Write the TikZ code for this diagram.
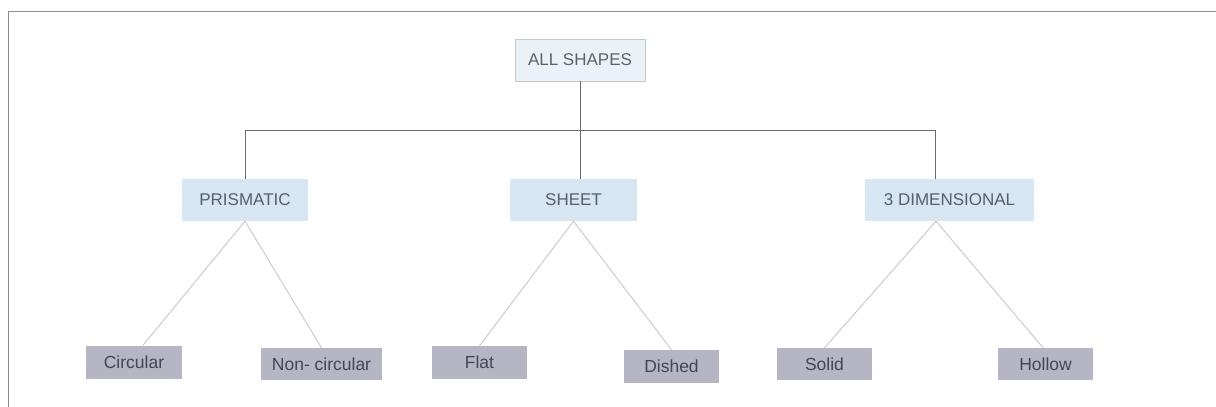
\documentclass[tikz,border=0pt]{standalone}
\usepackage{fontspec}
\setmainfont{Liberation Sans}
\begin{document}
\begin{tikzpicture}[x=1pt,y=-1pt,
  frame/.style={draw=black!45,line width=1.4pt},
  rootbox/.style={draw=black!22,line width=0.8pt,fill=rootfill,text=roottext,
    inner sep=0pt,minimum width=130pt,minimum height=42pt,font=\fontsize{17}{20}\selectfont},
  midbox/.style={fill=midfill,text=midtext,inner sep=0pt,minimum height=42pt,
    font=\fontsize{17}{20}\selectfont},
  leafbox/.style={fill=leaffill,text=leaftext,inner sep=0pt,minimum height=33pt,
    font=\fontsize{17.5}{20}\selectfont},
  trunk/.style={draw=black!58,line width=1pt},
  twig/.style={draw=black!20,line width=1pt}]
\definecolor{rootfill}{HTML}{EAF2F7}
\definecolor{roottext}{HTML}{5F6468}
\definecolor{midfill}{HTML}{D6E6F3}
\definecolor{midtext}{HTML}{56606B}
\definecolor{leaffill}{HTML}{B5B5C3}
\definecolor{leaftext}{HTML}{464651}

\useasboundingbox[fill=white] (0,0) rectangle (1216,407);

% outer frame: top and left edges only
\draw[frame] (8.5,407) -- (8.5,11.5) -- (1216,11.5);

% root and first level
\node[rootbox] (all) at (580,60) {ALL SHAPES};
\node[midbox,minimum width=126pt] (prism) at (245,200) {PRISMATIC};
\node[midbox,minimum width=127pt] (sheet) at (573.5,200) {SHEET};
\node[midbox,minimum width=169pt] (dim) at (949.5,200) {3 DIMENSIONAL};

% leaves
\node[leafbox,minimum width=96pt] (circ) at (134,362) {Circular};
\node[leafbox,minimum width=121pt,minimum height=32pt] (noncirc) at (321.5,364) {Non- circular};
\node[leafbox,minimum width=95pt] (flat) at (479.5,362.5) {Flat};
\node[leafbox,minimum width=95pt] (dished) at (671.5,366.5) {Dished};
\node[leafbox,minimum width=95pt,minimum height=32pt] (solid) at (824.5,364) {Solid};
\node[leafbox,minimum width=95pt,minimum height=32pt] (hollow) at (1045.5,364) {Hollow};

% attachment points on the boxes
\coordinate (bus) at (580,130.5);
\coordinate (sheettop) at ([xshift=7pt]sheet.north);
\coordinate (dimtop) at ([xshift=-14.5pt]dim.north);
\coordinate (dimbot) at ([xshift=-13.5pt]dim.south);
\coordinate (circtop) at ([xshift=9pt]circ.north);
\coordinate (hollowtop) at ([xshift=-2.5pt]hollow.north);

% tree trunk
\draw[trunk] (all.south) -- (bus);
\draw[trunk] (prism.north) -- (prism.north |- bus) -- (dimtop |- bus) -- (dimtop);
\draw[trunk] (sheettop) -- (sheettop |- bus);

% branches to the leaves
\draw[twig] (circtop) -- (prism.south) -- (noncirc.north);
\draw[twig] (flat.north) -- (sheet.south) -- (dished.north);
\draw[twig] (solid.north) -- (dimbot) -- (hollowtop);
\end{tikzpicture}
\end{document}
